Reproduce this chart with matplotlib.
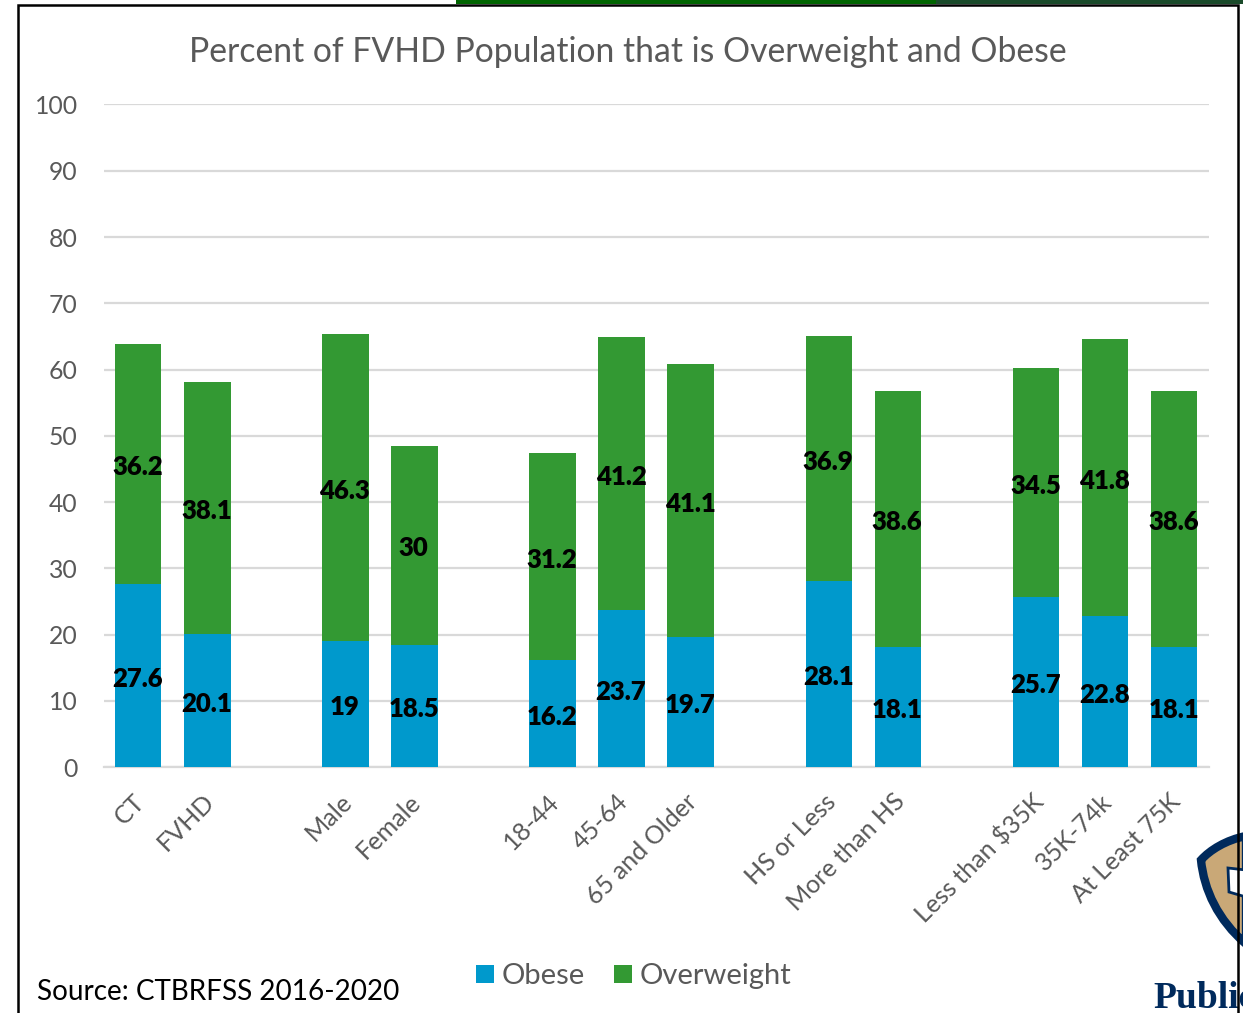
import matplotlib
matplotlib.use("Agg")
import matplotlib.pyplot as plt
from matplotlib.patches import PathPatch, Polygon, Rectangle
from matplotlib.path import Path
from matplotlib.transforms import ScaledTranslation

plt.rcParams['font.family'] = ['Lato', 'DejaVu Sans']

W, H = 1243, 1013
GREY = '#595959'
NAVY = '#002a5c'

# Blank strings separate the demographic groups along the axis
categories = ['CT', 'FVHD', '', 'Male', 'Female', '', '18-44', '45-64', '65 and Older', '',
              'HS or Less', 'More than HS', '', 'Less than $35K', '35K-74k', 'At Least 75K']
obese = [27.6, 20.1, None, 19, 18.5, None, 16.2, 23.7, 19.7, None, 28.1, 18.1, None, 25.7, 22.8, 18.1]
overweight = [36.2, 38.1, None, 46.3, 30, None, 31.2, 41.2, 41.1, None, 36.9, 38.6, None, 34.5, 41.8, 38.6]
y_ticks = list(range(0, 101, 10))

fig = plt.figure(figsize=(W / 100, H / 100), dpi=100, facecolor='white')
ax = fig.add_axes([104 / W, 1 - 767.2 / H, (1209 - 104) / W, (767.2 - 104.5) / H])


def value_label(x, y, value):
    ax.annotate(f'{value:g}', (x, y), xytext=(-0.7, -2.2), textcoords='offset points',
                ha='center', va='center', fontsize=18.5, fontweight='heavy',
                color='black', zorder=4)


for i, (ob, ov) in enumerate(zip(obese, overweight)):
    if ob is None:
        continue
    ax.bar(i - 0.005, ob, width=0.675, color='#0099cc', zorder=3)
    ax.bar(i - 0.005, ov, width=0.675, bottom=ob, color='#339933', zorder=3)
    value_label(i, ob / 2, ob)
    value_label(i, ob + ov / 2, ov)

ax.set_xlim(-0.5, len(categories) - 0.5)
ax.set_ylim(0, 100)
ax.set_yticks(y_ticks)
ax.set_xticks(range(len(categories)))
ax.set_xticklabels(categories, rotation=45, ha='right', rotation_mode='anchor',
                   fontsize=18.1, color=GREY)
ax.tick_params(axis='x', length=0, pad=16.2)
ax.tick_params(axis='y', length=0, pad=19, labelsize=17.8, labelcolor=GREY)

# Slide the slanted category labels left so they end under their bars
x_shift = ScaledTranslation(-4 / 72, 0, fig.dpi_scale_trans)
for lbl in ax.get_xticklabels():
    lbl.set_transform(lbl.get_transform() + x_shift)

ax.grid(axis='y', color='#d9d9d9', lw=1.6, zorder=0)
ax.set_axisbelow(True)
for side in ['top', 'right', 'left']:
    ax.spines[side].set_visible(False)
ax.spines['bottom'].set_color('#d9d9d9')
ax.spines['bottom'].set_linewidth(1.6)
ax.spines['bottom'].set_zorder(2)


# Everything below is placed in pixel coordinates of the slide
overlay = fig.add_axes([0, 0, 1, 1], facecolor='none')
overlay.set_xlim(0, W)
overlay.set_ylim(H, 0)
overlay.axis('off')

overlay.text(628, 52, 'Percent of FVHD Population that is Overweight and Obese',
             ha='center', va='center', fontsize=24.3, color=GREY)
overlay.text(37, 999.5, 'Source: CTBRFSS 2016-2020', ha='left', va='baseline',
             fontsize=20.1, color='black')

# Legend
overlay.add_patch(Rectangle((476, 965), 18, 18, color='#0099cc', lw=0))
overlay.text(502, 984, 'Obese', ha='left', va='baseline', fontsize=21, color=GREY)
overlay.add_patch(Rectangle((614, 965), 18, 18, color='#339933', lw=0))
overlay.text(640, 984, 'Overweight', ha='left', va='baseline', fontsize=21, color=GREY)

# Banner along the top edge
overlay.add_patch(Rectangle((456, 0), 480, 4, color='#006400', lw=0))
overlay.add_patch(Rectangle((936, 0), 307, 4, color='#1a4a2a', lw=0))

# Shield crest and wordmark, cut off by the slide edge
shield = Path([(1246, 836), (1226, 840), (1210, 850), (1201, 860),
               (1204, 890), (1218, 920), (1246, 944), (1246, 836)],
              [Path.MOVETO, Path.CURVE4, Path.CURVE4, Path.CURVE4,
               Path.CURVE4, Path.CURVE4, Path.CURVE4, Path.CLOSEPOLY])
overlay.add_patch(PathPatch(shield, facecolor='#c9a877', edgecolor=NAVY, lw=6, zorder=2))
overlay.add_patch(Polygon([(1228, 868), (1246, 870), (1246, 897), (1229, 892)],
                          closed=True, facecolor='white', edgecolor=NAVY, lw=2, zorder=3))
overlay.text(1153, 1008, 'Public', ha='left', va='baseline', fontsize=27, fontweight='bold',
             family='Liberation Serif', color=NAVY, zorder=3)

# Black frame around the slide content
overlay.plot([18, 18, 1238, 1238], [H, 5, 5, H], color='black', lw=1.8, zorder=5,
             solid_joinstyle='miter')

fig.savefig('out.png', dpi=100)
